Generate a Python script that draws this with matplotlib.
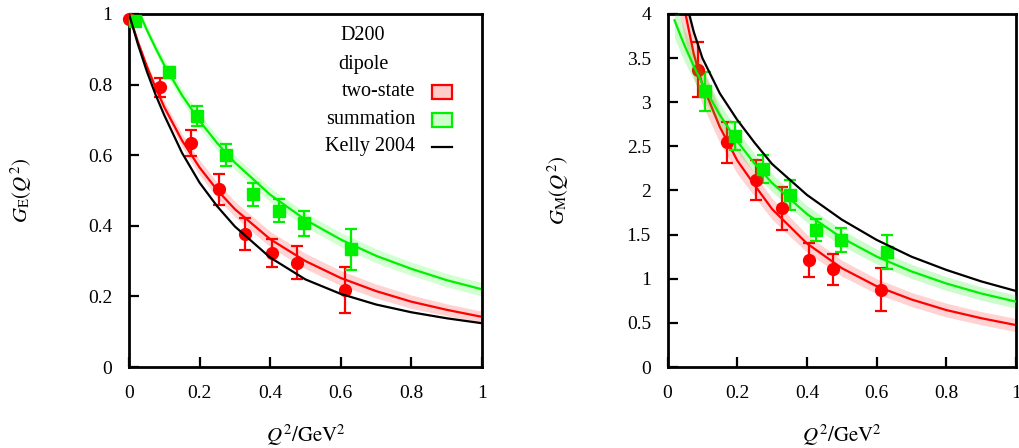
import matplotlib
matplotlib.use("Agg")
import matplotlib.pyplot as plt
import matplotlib.patches as patches
from matplotlib.ticker import FormatStrFormatter, MultipleLocator
import numpy as np

plt.rcParams['font.family'] = ['Liberation Serif', 'DejaVu Serif']
plt.rcParams['mathtext.fontset'] = 'stix'

red = '#ff0000'
green = '#00f000'
red_fill = '#ffcccc'
green_fill = '#ccffcc'

# ---- G_E data (D200) ----
q2_ge_two = [0.0, 0.088, 0.175, 0.254, 0.330, 0.405, 0.476, 0.611]
ge_two = [0.986, 0.793, 0.634, 0.503, 0.376, 0.322, 0.295, 0.218]
ge_two_err = [0.0, 0.027, 0.036, 0.043, 0.045, 0.040, 0.047, 0.065]

q2_ge_sum = [0.017, 0.112, 0.194, 0.275, 0.351, 0.425, 0.496, 0.630]
ge_sum = [0.981, 0.837, 0.711, 0.600, 0.489, 0.443, 0.407, 0.333]
ge_sum_err = [0.0, 0.012, 0.027, 0.032, 0.033, 0.032, 0.036, 0.057]

# dipole fit curves
q2_fit_ge = [0.0, 0.025, 0.05, 0.075, 0.1, 0.15, 0.2, 0.25, 0.3, 0.4, 0.5, 0.6, 0.7, 0.8, 0.9, 1.0]
ge_two_fit = [1.0, 0.922, 0.853, 0.792, 0.736, 0.642, 0.565, 0.501, 0.447, 0.362, 0.300, 0.252, 0.215, 0.185, 0.162, 0.142]
ge_two_band = [0.0, 0.006, 0.010, 0.013, 0.016, 0.019, 0.021, 0.022, 0.022, 0.022, 0.022, 0.021, 0.020, 0.019, 0.017, 0.016]
kelly_ge = [1.0, 0.915, 0.839, 0.772, 0.713, 0.607, 0.522, 0.455, 0.398, 0.310, 0.248, 0.207, 0.177, 0.155, 0.138, 0.124]

q2_fit_ge_sum = [0.017, 0.05, 0.075, 0.1, 0.15, 0.2, 0.25, 0.3, 0.4, 0.5, 0.6, 0.7, 0.8, 0.9, 1.0]
ge_sum_fit = [1.032, 0.956, 0.904, 0.855, 0.770, 0.697, 0.634, 0.579, 0.488, 0.417, 0.361, 0.315, 0.278, 0.246, 0.220]
ge_sum_band = [0.008, 0.012, 0.014, 0.016, 0.018, 0.019, 0.020, 0.020, 0.020, 0.020, 0.020, 0.020, 0.019, 0.019, 0.019]

# ---- G_M data ----
q2_gm_two = [0.088, 0.172, 0.253, 0.329, 0.405, 0.476, 0.612]
gm_two = [3.368, 2.547, 2.119, 1.797, 1.211, 1.105, 0.878]
gm_two_err = [0.31, 0.23, 0.23, 0.24, 0.19, 0.18, 0.24]

q2_gm_sum = [0.108, 0.194, 0.274, 0.351, 0.426, 0.497, 0.631]
gm_sum = [3.122, 2.619, 2.240, 1.949, 1.552, 1.438, 1.306]
gm_sum_err = [0.22, 0.16, 0.16, 0.17, 0.125, 0.14, 0.19]

q2_fit_gm = [0.02, 0.04, 0.05, 0.075, 0.1, 0.15, 0.2, 0.25, 0.3, 0.4, 0.5, 0.6, 0.7, 0.8, 0.9, 1.0]
gm_two_fit = [4.70, 4.25, 4.03, 3.55, 3.20, 2.72, 2.34, 2.06, 1.79, 1.40, 1.12, 0.915, 0.765, 0.645, 0.553, 0.475]
gm_two_band = [0.45, 0.36, 0.33, 0.27, 0.23, 0.18, 0.15, 0.13, 0.12, 0.10, 0.09, 0.085, 0.08, 0.078, 0.075, 0.075]
gm_sum_fit = [3.928, 3.727, 3.632, 3.411, 3.209, 2.855, 2.557, 2.303, 2.085, 1.733, 1.463, 1.251, 1.083, 0.946, 0.833, 0.740]
gm_sum_band = [0.20, 0.19, 0.18, 0.16, 0.15, 0.13, 0.12, 0.11, 0.10, 0.095, 0.09, 0.085, 0.08, 0.078, 0.075, 0.075]
kelly_gm = [4.75, 4.35, 4.18, 3.80, 3.50, 3.10, 2.80, 2.54, 2.30, 1.95, 1.67, 1.44, 1.25, 1.10, 0.97, 0.861]


def band(ax, x, y, dy, fc, lc):
    x = np.array(x); y = np.array(y); dy = np.array(dy)
    ax.fill_between(x, y - dy, y + dy, color=fc, alpha=0.85, lw=0, zorder=1)
    ax.plot(x, y, color=lc, lw=1.6, zorder=2)


def points(ax, x, y, err, color, marker, ms):
    ax.errorbar(x, y, yerr=err, fmt=marker, color=color, ms=ms, mec=color,
                elinewidth=1.6, capsize=4.5, capthick=1.6, zorder=3, clip_on=False)


def style(ax, ymax, ystep, ylab):
    ax.set_xlim(0, 1)
    ax.set_ylim(0, ymax)
    ax.xaxis.set_major_locator(MultipleLocator(0.2))
    ax.yaxis.set_major_locator(MultipleLocator(ystep))
    ax.xaxis.set_major_formatter(FormatStrFormatter('%g'))
    ax.yaxis.set_major_formatter(FormatStrFormatter('%g'))
    ax.tick_params(direction='in', length=7, width=1.6, labelsize=14, pad=13,
                   top=False, right=False)
    ax.tick_params(axis='y', pad=12)
    for s in ax.spines.values():
        s.set_linewidth(2)
    ax.set_xlabel(r'$Q^2/\mathrm{GeV}^2$', fontsize=15)
    ax.set_ylabel(ylab, fontsize=15)
    ax.xaxis.set_label_coords(0.5, -0.158)


fig = plt.figure(figsize=(10.19, 4.48), dpi=100)
ax1 = fig.add_axes([0.1266, 0.1808, 0.3464, 0.788])
ax2 = fig.add_axes([0.6551, 0.1808, 0.342, 0.788])

# left panel: G_E
band(ax1, q2_fit_ge, ge_two_fit, ge_two_band, red_fill, red)
points(ax1, q2_ge_two, ge_two, ge_two_err, red, 'o', 8.5)
band(ax1, q2_fit_ge_sum, ge_sum_fit, ge_sum_band, green_fill, green)
points(ax1, q2_ge_sum, ge_sum, ge_sum_err, green, 's', 8.5)
ax1.plot(q2_fit_ge, kelly_ge, color='k', lw=1.6, zorder=4)
style(ax1, 1, 0.2, r'$G_{\mathrm{E}}(Q^2)$')
ax1.yaxis.set_label_coords(-0.27, 0.5)

# legend drawn by hand, like the gnuplot key
ax1.text(0.663, 0.94, 'D200', transform=ax1.transAxes, ha='center', va='center', fontsize=14.5)
ax1.text(0.663, 0.856, 'dipole', transform=ax1.transAxes, ha='center', va='center', fontsize=14.5)
rows = [('two-state', 0.78), ('summation', 0.70), ('Kelly 2004', 0.624)]
for label, yy in rows:
    ax1.text(0.81, yy, label, transform=ax1.transAxes, ha='right', va='center', fontsize=14.5)
ax1.add_patch(patches.Rectangle((0.858, 0.78 - 0.02), 0.056, 0.04, transform=ax1.transAxes,
                                fc=red_fill, ec=red, lw=1.6, zorder=5))
ax1.add_patch(patches.Rectangle((0.858, 0.70 - 0.02), 0.056, 0.04, transform=ax1.transAxes,
                                fc=green_fill, ec=green, lw=1.6, zorder=5))
ax1.plot([0.858, 0.914], [0.624, 0.624], color='k', lw=1.6, transform=ax1.transAxes)

# right panel: G_M
band(ax2, q2_fit_gm, gm_two_fit, gm_two_band, red_fill, red)
points(ax2, q2_gm_two, gm_two, gm_two_err, red, 'o', 8.5)
ax2.fill_between(q2_fit_gm, np.array(gm_sum_fit) - np.array(gm_sum_band),
                 np.array(gm_sum_fit) + np.array(gm_sum_band), color=green, alpha=0.2, lw=0, zorder=3.5)
ax2.plot(q2_fit_gm, gm_sum_fit, color=green, lw=1.6, zorder=3.6)
points(ax2, q2_gm_sum, gm_sum, gm_sum_err, green, 's', 8.5)
ax2.plot(q2_fit_gm, kelly_gm, color='k', lw=1.6, zorder=4)
style(ax2, 4, 0.5, r'$G_{\mathrm{M}}(Q^2)$')
ax2.yaxis.set_label_coords(-0.278, 0.5)

fig.savefig('out.png', dpi=100)
